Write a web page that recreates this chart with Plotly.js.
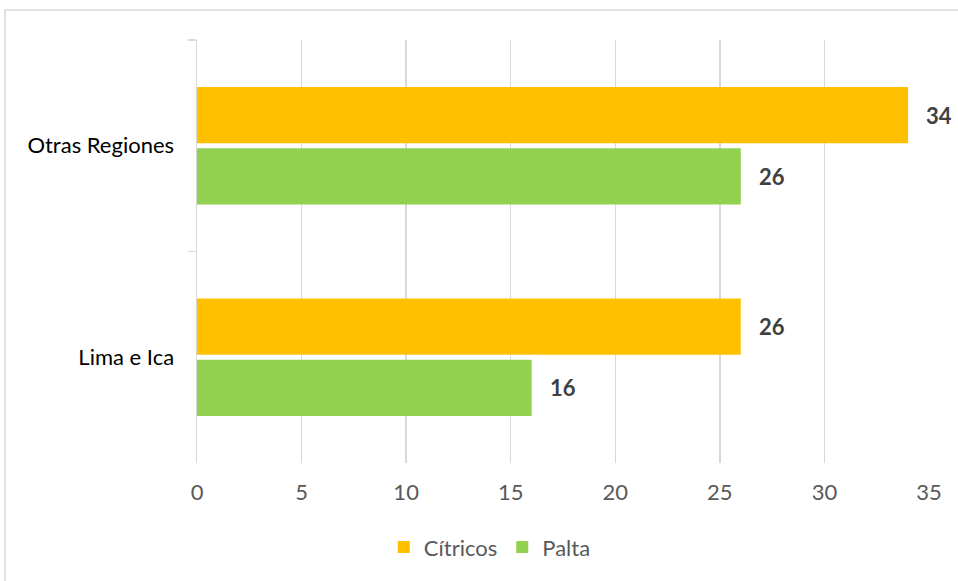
<!DOCTYPE html>
<html>
<head>
<meta charset="utf-8">
<script src="https://cdn.plot.ly/plotly-3.0.1.min.js"></script>
<style>
  html, body { margin: 0; padding: 0; background: #ffffff; }
  #chart { width: 958px; height: 581px; }
</style>
</head>
<body>
<div id="chart"></div>
<script>
// ---- data ----
var categories = ["Otras Regiones", "Lima e Ica"];
var seriesNames = ["Cítricos", "Palta"];
var citricos = [34, 26];
var palta = [26, 16];
var xTickVals = [0, 5, 10, 15, 20, 25, 30, 35];
var xTickText = ["0", "5", "10", "15", "20", "25", "30", "35"];

var colors = ["#FFC000", "#92D050"];
var FONT = "Lato, Carlito, Calibri, 'Open Sans', sans-serif";

var seriesValues = [citricos, palta];
var traces = seriesValues.map(function (vals, i) {
  return {
    type: "bar",
    orientation: "h",
    name: seriesNames[i],
    x: vals,
    y: categories,
    marker: { color: colors[i], line: { width: 0 } },
    hoverinfo: "x+y+name"
  };
});

// value labels from the data arrays
var annotations = [];
seriesValues.forEach(function (vals, i) {
  vals.forEach(function (v, j) {
    annotations.push({
      x: v, y: categories[j], xref: "x", yref: "y",
      text: String(v), showarrow: false,
      xanchor: "left", yanchor: "middle",
      xshift: 16, yshift: i === 0 ? 30.5 : -30.5,
      font: { family: FONT, size: 22, color: "#404040", weight: "bold" }
    });
  });
});

var layout = {
  width: 958, height: 581,
  margin: { l: 197, r: 29, t: 40, b: 118, pad: 0 },
  paper_bgcolor: "#ffffff", plot_bgcolor: "#ffffff",
  font: { family: FONT, size: 22, color: "#595959" },
  barmode: "group",
  bargap: 0.42,
  bargroupgap: 0.082,
  showlegend: true,
  legend: {
    orientation: "h", x: 0.40, xanchor: "center", y: -0.199, yanchor: "middle",
    font: { family: FONT, size: 22, color: "#595959" },
    itemwidth: 30, traceorder: "normal"
  },
  xaxis: {
    range: [0, 35], tickvals: xTickVals, ticktext: xTickText,
    showgrid: true, gridcolor: "#d9d9d9", gridwidth: 1.3,
    zeroline: false, showline: false, ticks: "",
    ticklabelstandoff: 14,
    tickfont: { family: FONT, size: 22, color: "#595959" },
    fixedrange: true
  },
  yaxis: {
    type: "category", categoryorder: "array", categoryarray: categories,
    autorange: "reversed",
    showgrid: false, zeroline: false,
    showline: true, linecolor: "#d9d9d9", linewidth: 1.5,
    ticks: "outside", tickson: "boundaries", ticklen: 8, tickcolor: "#d9d9d9", tickwidth: 1.5,
    ticklabelstandoff: 17,
    tickfont: { family: FONT, size: 22, color: "#000000" },
    fixedrange: true
  },
  annotations: annotations,
  shapes: [{
    type: "rect", xref: "paper", yref: "paper",
    x0: -0.2623, x1: 1.2, y0: -0.6, y1: 1.0709,
    line: { color: "#d9d9d9", width: 1.5 }, fillcolor: "rgba(0,0,0,0)", layer: "below"
  }]
};

Plotly.newPlot("chart", traces, layout, { displayModeBar: false, staticPlot: true });
</script>
</body>
</html>
